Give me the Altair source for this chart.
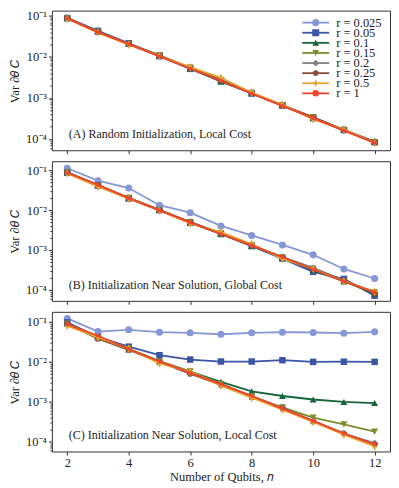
import altair as alt
import pandas as pd

n_qubits = [2, 3, 4, 5, 6, 7, 8, 9, 10, 11, 12]
r_labels = ["r = 0.025", "r = 0.05", "r = 0.1", "r = 0.15", "r = 0.2", "r = 0.25", "r = 0.5", "r = 1"]

colors = ["#8697d8", "#3a55a5", "#17663a", "#7f8a30", "#808080", "#8b4e3b", "#e5a330", "#f2452a"]
PENT = "M0,-1L0.951,-0.309L0.588,0.809L-0.588,0.809L-0.951,-0.309Z"
THIN = "M0,-1.15L0.55,0L0,1.15L-0.55,0Z"
shapes = ["circle", "square", "triangle-up", "triangle-down", "diamond", PENT, THIN, "circle"]
sizes = [50, 42, 50, 50, 50, 50, 60, 14]

panel_a = {
    "r = 0.025": [0.089, 0.042, 0.0212, 0.0106, 0.0054, 0.0027, 0.00131, 0.00066, 0.00033, 0.000167, 0.000084],
    "r = 0.05": [0.088, 0.043, 0.0215, 0.0104, 0.0051, 0.0026, 0.00128, 0.00065, 0.00032, 0.000165, 0.000083],
    "r = 0.1": [0.088, 0.041, 0.0208, 0.0107, 0.0052, 0.0025, 0.00130, 0.00067, 0.00033, 0.000166, 0.000086],
    "r = 0.15": [0.087, 0.040, 0.0205, 0.0110, 0.0055, 0.0027, 0.00133, 0.00066, 0.00034, 0.000164, 0.000084],
    "r = 0.2": [0.090, 0.041, 0.0210, 0.0108, 0.0053, 0.0027, 0.00129, 0.00065, 0.00032, 0.000160, 0.000085],
    "r = 0.25": [0.088, 0.041, 0.0207, 0.0106, 0.0053, 0.0027, 0.00130, 0.00066, 0.00033, 0.000165, 0.000084],
    "r = 0.5": [0.085, 0.039, 0.0198, 0.0105, 0.0056, 0.0031, 0.00135, 0.00068, 0.00030, 0.000170, 0.000080],
    "r = 1": [0.087, 0.040, 0.0205, 0.0103, 0.0052, 0.0026, 0.00128, 0.00064, 0.00032, 0.000160, 0.000080],
}

panel_b = {
    "r = 0.025": [0.113, 0.055, 0.036, 0.0133, 0.0086, 0.0040, 0.0023, 0.00133, 0.00075, 0.00033, 0.00019],
    "r = 0.05": [0.089, 0.042, 0.0198, 0.0100, 0.0048, 0.0025, 0.00124, 0.00060, 0.00028, 0.000185, 0.000070],
    "r = 0.1": [0.088, 0.042, 0.0200, 0.0101, 0.0049, 0.0025, 0.00126, 0.00064, 0.00031, 0.000160, 0.000080],
    "r = 0.15": [0.088, 0.041, 0.0205, 0.0102, 0.0050, 0.0026, 0.00130, 0.00065, 0.00034, 0.000165, 0.000085],
    "r = 0.2": [0.090, 0.043, 0.0202, 0.0100, 0.0049, 0.0026, 0.00128, 0.00066, 0.00035, 0.000170, 0.000083],
    "r = 0.25": [0.088, 0.042, 0.0200, 0.0099, 0.0050, 0.0026, 0.00130, 0.00065, 0.00033, 0.000165, 0.000082],
    "r = 0.5": [0.084, 0.039, 0.0195, 0.0097, 0.0046, 0.0028, 0.00140, 0.00060, 0.00033, 0.000160, 0.000089],
    "r = 1": [0.087, 0.043, 0.0200, 0.0098, 0.0049, 0.0025, 0.00130, 0.00066, 0.00032, 0.000160, 0.000086],
}

panel_c = {
    "r = 0.025": [0.119, 0.056, 0.062, 0.054, 0.052, 0.048, 0.052, 0.054, 0.053, 0.051, 0.055],
    "r = 0.05": [0.095, 0.041, 0.0235, 0.0144, 0.0112, 0.0100, 0.0100, 0.0108, 0.0098, 0.0099, 0.0098],
    "r = 0.1": [0.089, 0.040, 0.0200, 0.0100, 0.0056, 0.0031, 0.00180, 0.00138, 0.00113, 0.00098, 0.00092],
    "r = 0.15": [0.088, 0.039, 0.0210, 0.0102, 0.0057, 0.0028, 0.00135, 0.00072, 0.00040, 0.000270, 0.000178],
    "r = 0.2": [0.090, 0.038, 0.0195, 0.0100, 0.0050, 0.0027, 0.00136, 0.00070, 0.00033, 0.000160, 0.000092],
    "r = 0.25": [0.087, 0.037, 0.0198, 0.0098, 0.0050, 0.0026, 0.00130, 0.00068, 0.00032, 0.000160, 0.000085],
    "r = 0.5": [0.078, 0.040, 0.0210, 0.0090, 0.0055, 0.0025, 0.00125, 0.00063, 0.00031, 0.000150, 0.000076],
    "r = 1": [0.085, 0.044, 0.0206, 0.0100, 0.0052, 0.0027, 0.00140, 0.00067, 0.00033, 0.000160, 0.000086],
}

panels = [panel_a, panel_b, panel_c]
panel_texts = [
    "(A) Random Initialization, Local Cost",
    "(B) Initialization Near Solution, Global Cost",
    "(C) Initialization Near Solution, Local Cost",
]
y_domains = [[5.3e-5, 0.134], [5.2e-5, 0.17], [5.7e-5, 0.174]]
x_ticks = [2, 4, 6, 8, 10, 12]
x_domain = [1.5, 12.5]
y_title = "Var ∂𝜃 𝐶"
x_title = "Number of Qubits, 𝑛"

FONT = "Liberation Serif"
W, H = 339, 140

EXP = "round(log(datum.value)/LN10)"
IS_MAJOR = f"abs(log(datum.value)/LN10 - {EXP}) < 0.001"
LABEL_EXPR = (
    f"{IS_MAJOR} ? ({EXP} == -1 ? '10⁻¹' : {EXP} == -2 ? '10⁻²' : "
    f"{EXP} == -3 ? '10⁻³' : {EXP} == -4 ? '10⁻⁴' : '') : ''"
)


def y_tick_values(dom):
    out = []
    for k in range(-6, 1):
        for m in range(1, 10):
            v = m * 10.0 ** k
            if dom[0] <= v <= dom[1]:
                out.append(v)
    return out


def make_panel(i, last):
    data = panels[i]
    dom = y_domains[i]
    xs = alt.Scale(domain=x_domain, nice=False, zero=False)
    ys = alt.Scale(type="log", domain=dom, nice=False)
    if last:
        x_axis = alt.Axis(values=x_ticks, title=x_title, tickSize=3.5, labelPadding=2, titlePadding=1)
    else:
        x_axis = alt.Axis(values=x_ticks, labels=False, title=None, tickSize=3.5)
    y_axis = alt.Axis(
        values=y_tick_values(dom),
        labelExpr=LABEL_EXPR,
        tickSize={"condition": {"test": IS_MAJOR, "value": 3.5}, "value": 2},
        labelPadding=2,
        title=y_title,
        titlePadding=4,
    )
    layers = []
    for j, lab in enumerate(r_labels):
        df = pd.DataFrame({"n": n_qubits, "v": data[lab]})
        enc = dict(
            x=alt.X("n:Q", scale=xs, axis=x_axis),
            y=alt.Y("v:Q", scale=ys, axis=y_axis),
        )
        base = alt.Chart(df)
        layers.append(base.mark_line(color=colors[j], strokeWidth=1.8).encode(**enc))
        layers.append(
            base.mark_point(shape=shapes[j], size=sizes[j], filled=True, color=colors[j], opacity=1,
                            strokeWidth=0).encode(**enc)
        )
    txt = alt.Chart(pd.DataFrame({"t": [panel_texts[i]]})).mark_text(
        align="left", baseline="middle", font=FONT, fontSize=12, color="#222"
    ).encode(text="t:N", x=alt.value(17), y=alt.value(H - 16))
    layers.append(txt)
    data_layer = alt.layer(*layers)
    if i != 0:
        return data_layer.properties(width=W, height=H)

    leg_df = pd.DataFrame({"label": r_labels})
    ly = alt.Y("label:N", scale=alt.Scale(domain=r_labels, range=[7, 88], padding=0), axis=None)
    lc = alt.Color("label:N", scale=alt.Scale(domain=r_labels, range=colors), legend=None)
    lbase = alt.Chart(leg_df)
    rule = lbase.mark_rule(strokeWidth=1.8).encode(x=alt.value(251), x2=alt.value(278), y=ly, color=lc)
    pts = lbase.mark_point(filled=True, opacity=1, strokeWidth=0).encode(
        x=alt.value(264.5), y=ly, color=lc,
        shape=alt.Shape("label:N", scale=alt.Scale(domain=r_labels, range=shapes), legend=None),
        size=alt.Size("label:N", scale=alt.Scale(domain=r_labels, range=sizes), legend=None),
    )
    ltxt = lbase.mark_text(align="left", baseline="middle", font=FONT, fontSize=12.5, color="#222").encode(
        x=alt.value(285), y=ly, text="label:N"
    )
    legend_layer = alt.layer(rule, pts, ltxt)
    return alt.layer(data_layer, legend_layer).resolve_scale(
        y="independent", color="independent", shape="independent", size="independent"
    ).properties(width=W, height=H)


chart = alt.vconcat(
    make_panel(0, False), make_panel(1, False), make_panel(2, True), spacing=5
).properties(padding=0).configure_view(stroke="#333", strokeWidth=1).configure_axis(
    labelFont=FONT, titleFont=FONT, labelFontSize=12.5, titleFontSize=12.5,
    labelColor="#222", titleColor="#222", tickColor="#333", domain=False, grid=False,
    titleFontWeight="normal",
)

chart.save("out.html", embed_options={"renderer": "svg", "actions": False})
